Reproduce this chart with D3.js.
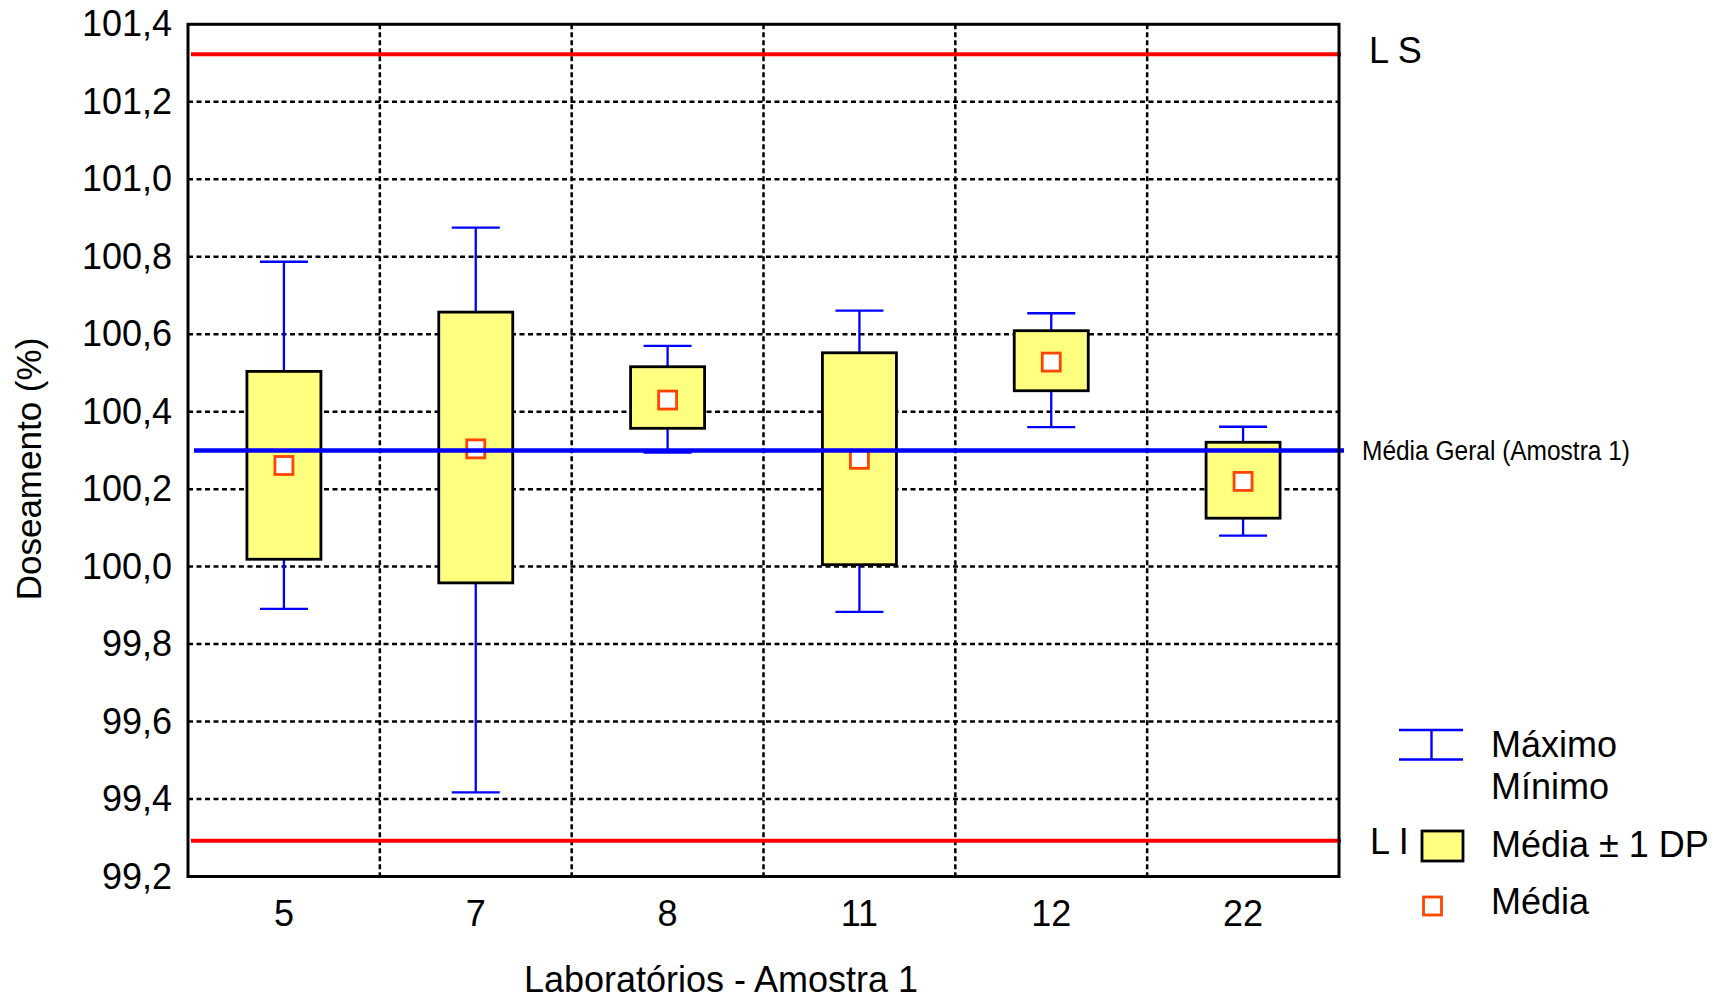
<!DOCTYPE html>
<html>
<head>
<meta charset="utf-8">
<script src="https://cdn.jsdelivr.net/npm/d3@7"></script>
<style>
  body { margin: 0; background: #fff; }
  svg { display: block; font-family: "Liberation Sans", Arial, sans-serif; }
</style>
</head>
<body>
<svg id="viz" width="1727" height="999"></svg>
<script>
// data
var labs = ['5', '7', '8', '11', '12', '22'];
var maxVals = [100.787, 100.875, 100.570, 100.661, 100.654, 100.361];
var upperSD = [100.504, 100.657, 100.516, 100.552, 100.609, 100.321];
var meanVals = [100.261, 100.304, 100.430, 100.277, 100.528, 100.220];
var lowerSD = [100.019, 99.958, 100.357, 100.005, 100.454, 100.125];
var minVals = [99.891, 99.417, 100.294, 99.883, 100.360, 100.080];
var yTicks = [99.2, 99.4, 99.6, 99.8, 100.0, 100.2, 100.4, 100.6, 100.8, 101.0, 101.2, 101.4];
var limitSup = 101.323;
var limitInf = 99.292;
var grandMean = 100.300;

// plot area (note: "top" is taken by window.top)
var pLeft = 188, pRight = 1339, pTop = 24.3, pBottom = 876.5;

var svg = d3.select('#viz');

var x = d3.scaleBand().domain(labs).range([pLeft, pRight]).padding(0);
var y = d3.scaleLinear().domain([99.2, 101.4]).range([pBottom, pTop]);

var comma = d3.formatLocale({ decimal: ',', thousands: '.', grouping: [3], currency: ['', ''] }).format('.1f');

var rows = labs.map(function (d, i) {
  return { lab: d, max: maxVals[i], hi: upperSD[i], mean: meanVals[i], lo: lowerSD[i], min: minVals[i] };
});

// grid
svg.append('g')
  .selectAll('line')
  .data(yTicks.slice(1, -1))
  .join('line')
  .attr('x1', pLeft)
  .attr('x2', pRight)
  .attr('y1', (d) => y(d))
  .attr('y2', (d) => y(d))
  .attr('stroke', '#000')
  .attr('stroke-width', 2.5)
  .attr('stroke-dasharray', '5,3.5');

svg.append('g')
  .selectAll('line')
  .data(labs.slice(1))
  .join('line')
  .attr('x1', (d) => x(d))
  .attr('x2', (d) => x(d))
  .attr('y1', pTop)
  .attr('y2', pBottom)
  .attr('stroke', '#000')
  .attr('stroke-width', 2.5)
  .attr('stroke-dasharray', '5,3');

// limit lines LS / LI
svg.append('g')
  .selectAll('line')
  .data([limitSup, limitInf])
  .join('line')
  .attr('x1', pLeft + 3)
  .attr('x2', pRight + 2)
  .attr('y1', (d) => y(d))
  .attr('y2', (d) => y(d))
  .attr('stroke', '#ff0000')
  .attr('stroke-width', 4);

// whiskers
var bw = x.bandwidth();
var wh = svg.append('g').attr('stroke', '#0000ff').attr('stroke-width', 2.3);
wh.selectAll('.stem')
  .data(rows)
  .join('line')
  .attr('x1', (d) => x(d.lab) + bw / 2)
  .attr('x2', (d) => x(d.lab) + bw / 2)
  .attr('y1', (d) => y(d.max))
  .attr('y2', (d) => y(d.min));
wh.selectAll('.capTop')
  .data(rows)
  .join('line')
  .attr('x1', (d) => x(d.lab) + bw / 2 - 24)
  .attr('x2', (d) => x(d.lab) + bw / 2 + 24)
  .attr('y1', (d) => y(d.max))
  .attr('y2', (d) => y(d.max));
wh.selectAll('.capBot')
  .data(rows)
  .join('line')
  .attr('x1', (d) => x(d.lab) + bw / 2 - 24)
  .attr('x2', (d) => x(d.lab) + bw / 2 + 24)
  .attr('y1', (d) => y(d.min))
  .attr('y2', (d) => y(d.min));

// boxes (mean +- 1 SD)
svg.append('g')
  .selectAll('rect')
  .data(rows)
  .join('rect')
  .attr('x', (d) => x(d.lab) + bw / 2 - 37)
  .attr('width', 74)
  .attr('y', (d) => y(d.hi))
  .attr('height', (d) => y(d.lo) - y(d.hi))
  .attr('fill', '#ffff80')
  .attr('stroke', '#000')
  .attr('stroke-width', 2.8);

// mean markers
svg.append('g')
  .selectAll('rect')
  .data(rows)
  .join('rect')
  .attr('x', (d) => x(d.lab) + bw / 2 - 9)
  .attr('y', (d) => y(d.mean) - 9)
  .attr('width', 18)
  .attr('height', 18)
  .attr('fill', '#fff')
  .attr('stroke', '#ff4500')
  .attr('stroke-width', 2.8);

// grand mean line, drawn on top of the boxes
svg.append('line')
  .attr('x1', pLeft + 6)
  .attr('x2', pRight + 5)
  .attr('y1', y(grandMean))
  .attr('y2', y(grandMean))
  .attr('stroke', '#0000ff')
  .attr('stroke-width', 4.5);

// frame
svg.append('rect')
  .attr('x', pLeft)
  .attr('y', pTop)
  .attr('width', pRight - pLeft)
  .attr('height', pBottom - pTop)
  .attr('fill', 'none')
  .attr('stroke', '#000')
  .attr('stroke-width', 3);

// axes
var yAxis = svg.append('g')
  .attr('transform', 'translate(' + pLeft + ',0)')
  .call(d3.axisLeft(y).tickValues(yTicks).tickSize(0).tickPadding(16).tickFormat(comma));
var xAxis = svg.append('g')
  .attr('transform', 'translate(0,' + pBottom + ')')
  .call(d3.axisBottom(x).tickSize(0).tickPadding(24));
[yAxis, xAxis].forEach(function (ax) {
  ax.select('.domain').remove();
  ax.selectAll('text')
    .attr('fill', '#000')
    .style('font-size', '36px')
    .style('font-family', '"Liberation Sans", Arial, sans-serif');
});

// axis titles
svg.append('text')
  .attr('transform', 'translate(40.5,469) rotate(-90)')
  .attr('text-anchor', 'middle')
  .style('font-size', '35px')
  .text('Doseamento (%)');

svg.append('text')
  .attr('x', 721)
  .attr('y', 992)
  .attr('text-anchor', 'middle')
  .style('font-size', '36px')
  .text('Laboratórios - Amostra 1');

// line labels
svg.append('text')
  .attr('x', 1369)
  .attr('y', 63)
  .style('font-size', '36px')
  .text('L S');

svg.append('text')
  .attr('x', 1370)
  .attr('y', 854)
  .style('font-size', '36px')
  .text('L I');

svg.append('text')
  .attr('x', 1362)
  .attr('y', y(grandMean) + 10)
  .attr('textLength', 268)
  .attr('lengthAdjust', 'spacingAndGlyphs')
  .style('font-family', '"Liberation Sans Narrow", "Liberation Sans", Arial, sans-serif')
  .style('font-size', '27px')
  .text('Média Geral (Amostra 1)');

// legend
var lg = svg.append('g');
lg.append('line').attr('x1', 1399).attr('x2', 1463).attr('y1', 730).attr('y2', 730)
  .attr('stroke', '#0000ff').attr('stroke-width', 2.4);
lg.append('line').attr('x1', 1399).attr('x2', 1463).attr('y1', 759.5).attr('y2', 759.5)
  .attr('stroke', '#0000ff').attr('stroke-width', 2.4);
lg.append('line').attr('x1', 1431.5).attr('x2', 1431.5).attr('y1', 730).attr('y2', 759.5)
  .attr('stroke', '#0000ff').attr('stroke-width', 2.4);
lg.append('rect').attr('x', 1422).attr('y', 831).attr('width', 41).attr('height', 30)
  .attr('fill', '#ffff80').attr('stroke', '#000').attr('stroke-width', 2.8);
lg.append('rect').attr('x', 1423.5).attr('y', 897).attr('width', 18).attr('height', 18)
  .attr('fill', '#fff').attr('stroke', '#ff4500').attr('stroke-width', 2.8);

var legendText = [['Máximo', 757], ['Mínimo', 799], ['Média ± 1 DP', 857], ['Média', 914]];
lg.selectAll('text')
  .data(legendText)
  .join('text')
  .attr('x', 1491)
  .attr('y', (d) => d[1])
  .style('font-size', '36px')
  .text((d) => d[0]);
</script>
</body>
</html>
